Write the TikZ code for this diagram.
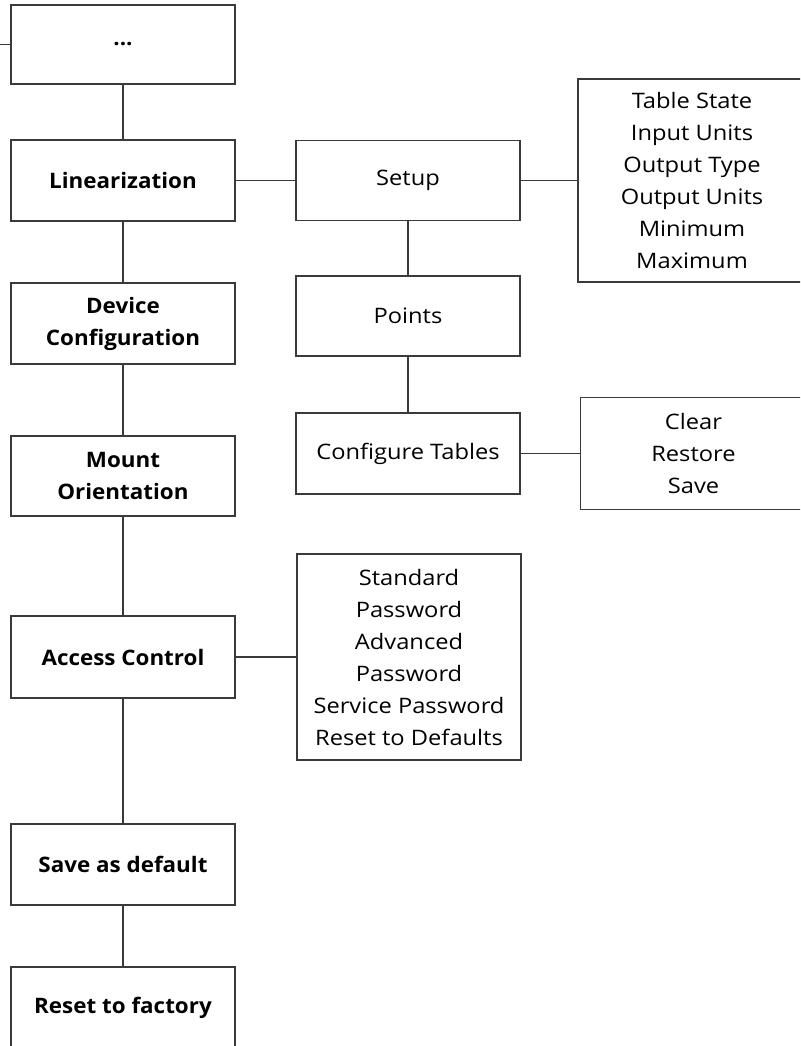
\documentclass[tikz,border=0pt]{standalone}
\usepackage{fontspec}
\setmainfont{Open Sans}[FakeStretch=1.11, BoldFeatures={FakeStretch=1.05}]
\definecolor{linec}{HTML}{3A3A3A}
\begin{document}
\begin{tikzpicture}[x=0.75pt,y=-0.75pt,
  box/.style={draw=linec, line width=0.8pt, inner sep=0pt, align=center,
    minimum width=168pt, font={\fontsize{16}{24}\selectfont}},
  bbox/.style={box, font={\fontsize{16}{24}\selectfont\bfseries}},
  link/.style={draw=linec, line width=0.8pt}]
\useasboundingbox (0,0) rectangle (800,1046);
\clip (0,0) rectangle (800,1046);
% left column
\node[bbox, minimum height=59.25pt] (dots) at (123,44.5) {...};
\node[bbox, minimum height=60.75pt] (lin) at (123,180.5) {Linearization};
\node[bbox, minimum height=60.75pt] (dev) at (123,323.5) {Device\\Configuration};
\node[bbox, minimum height=60pt] (mount) at (123,476) {Mount\\Orientation};
\node[bbox, minimum height=61.5pt] (access) at (123,657) {Access Control};
\node[bbox, minimum height=60.75pt] (save) at (123,864.5) {Save as default};
\node[bbox, minimum height=61.5pt] (reset) at (123,1008) {Reset to factory};
% middle column
\node[box, minimum height=60pt] (setup) at (408,180.5) {Setup};
\node[box, minimum height=60pt] (points) at (408,316) {Points};
\node[box, minimum height=60.75pt] (config) at (408,453.5) {Configure Tables};
\node[box, minimum height=154.5pt] (std) at (409,657) {Standard\\Password\\Advanced\\Password\\Service Password\\Reset to Defaults};
% right column
\node[box, minimum width=171pt, minimum height=152.25pt] (tstate) at (692,180.5) {Table State\\Input Units\\Output Type\\Output Units\\Minimum\\Maximum};
\node[box, minimum width=169pt, minimum height=84pt] (clear) at (693.5,453.5) {Clear\\Restore\\Save};
% connectors
\coordinate (stub) at (0,44.5);
\draw[link] (stub) -- (dots.west);
\draw[link] (dots.south) -- (lin.north);
\draw[link] (lin.south) -- (dev.north);
\draw[link] (dev.south) -- (mount.north);
\draw[link] (mount.south) -- (access.north);
\draw[link] (access.south) -- (save.north);
\draw[link] (save.south) -- (reset.north);
\draw[link] (lin.east) -- (setup.west);
\draw[link] (setup.east) -- (tstate.west);
\draw[link] (setup.south) -- (points.north);
\draw[link] (points.south) -- (config.north);
\draw[link] (config.east) -- (clear.west);
\draw[link] (access.east) -- (std.west);
\end{tikzpicture}
\end{document}
